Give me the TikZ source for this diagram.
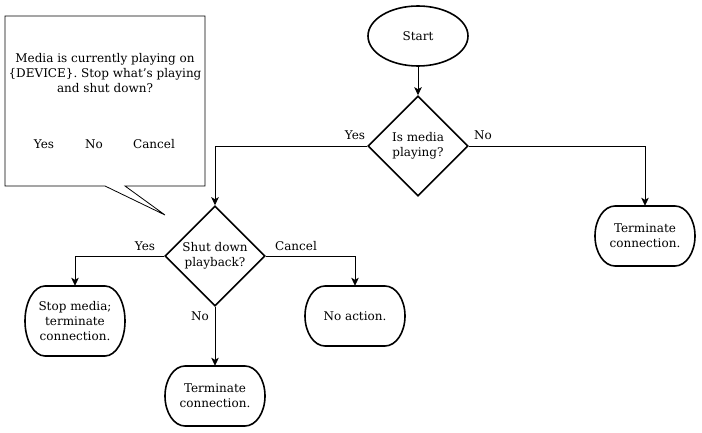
\documentclass[tikz,border=0pt]{standalone}
\usepackage{fontspec}
\setmainfont{DejaVu Serif}
\usetikzlibrary{shapes.geometric,arrows.meta}
\newcommand{\termshape}[6]{% name, x, y, width, height, text
  \node[termnode, minimum width=#4pt, minimum height=#5pt] (#1) at (#2,#3) {#6};
  \draw[line width=1.6pt]
    ({#2+#4/2-20},{#3-#5/2}) arc[start angle=-90, end angle=90, x radius=20, y radius=#5/2]
    -- ({#2-#4/2+20},{#3+#5/2}) arc[start angle=90, end angle=270, x radius=20, y radius=#5/2]
    -- cycle;
}
\begin{document}
\begin{tikzpicture}[x=1pt,y=-1pt,
  every node/.style={font=\fontsize{12}{15}\selectfont, align=center},
  shapeline/.style={draw, line width=1.6pt},
  decision/.style={shapeline, diamond, minimum width=100pt, minimum height=100pt, inner sep=0pt},
  termnode/.style={inner sep=0pt},
  startnode/.style={shapeline, ellipse, minimum width=100pt, minimum height=60pt, inner sep=0pt},
  conn/.style={draw, line width=0.8pt, -{Stealth[length=8pt,width=7.5pt,inset=2pt]}},
  lbl/.style={inner sep=0pt}
]
\useasboundingbox (0,0) rectangle (702,433);
\fill[white] (0,0) rectangle (702,433);

\node[startnode] (start) at (418,36) {Start};
\node[decision] (d1) at (418,146) {Is media\\playing?};
\termshape{t1}{645}{236}{100}{60}{Terminate\\connection.}
\node[decision] (d2) at (215,256) {Shut down\\playback?};
\termshape{stop}{75}{321}{100}{70}{Stop media;\\terminate\\connection.}
\termshape{noact}{355}{316}{100}{60}{No action.}
\termshape{t2}{215}{396}{100}{60}{Terminate\\connection.}

\draw[conn] (start) -- (d1);
\draw[conn] (d1.west) -| (d2.north);
\draw[conn] (d1.east) -| (t1.north);
\draw[conn] (d2.west) -| (stop.north);
\draw[conn] (d2.east) -| (noact.north);
\draw[conn] (d2.south) -- (t2.north);

\node[lbl] (ly1) at (355,135) {Yes};
\node[lbl] (ln1) at (483,135) {No};
\node[lbl] (ly2) at (145,246) {Yes};
\node[lbl] (lc2) at (296,246) {Cancel};
\node[lbl] (ln2) at (200,316) {No};

% callout
\draw[line width=0.8pt, fill=white] (5,16) -- (205,16) -- (205,186) -- (125,186) -- (165,215) -- (105,186) -- (5,186) -- cycle;
\node[lbl] (msg) at (105,73) {Media is currently playing on\\\{DEVICE\}. Stop what's playing\\and shut down?};
\node[lbl] (by) at (44,144) {Yes};
\node[lbl] (bn) at (94,144) {No};
\node[lbl] (bc) at (154,144) {Cancel};
\end{tikzpicture}
\end{document}
